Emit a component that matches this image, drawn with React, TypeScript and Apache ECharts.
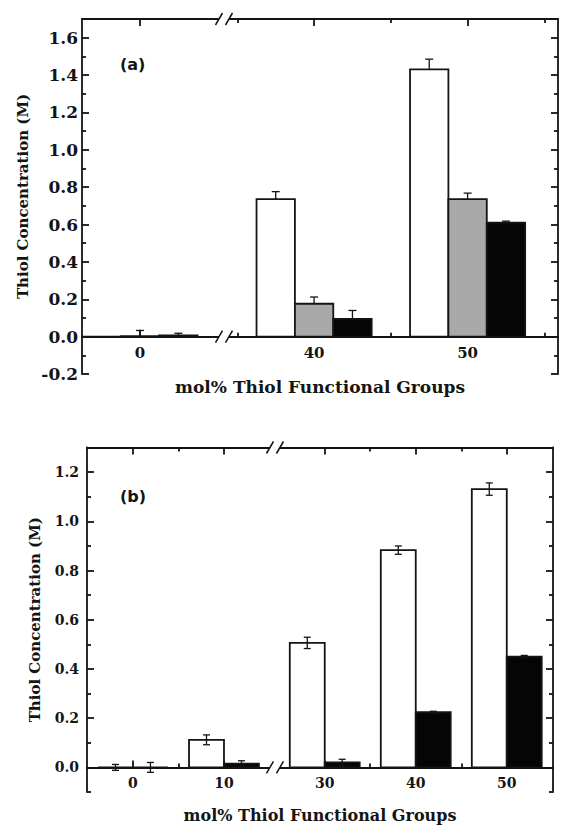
import React, { useEffect, useRef } from 'react';
import * as echarts from 'echarts';

// ---------- Panel (a) data ----------
const groupsA = [0, 40, 50];
const whiteA = [0, 0.736, 1.43];
const whiteErrA = [0, 0.04, 0.055];
const greyA = [0.003, 0.176, 0.736];
const greyErrA = [0.03, 0.036, 0.032];
const blackA = [0.006, 0.095, 0.61];
const blackErrA = [0.012, 0.045, 0.008];
const xLabelsA = [0, 40, 50];
const xMinorA = [35, 45, 55];
const yLabelsA = [-0.2, 0, 0.2, 0.4, 0.6, 0.8, 1.0, 1.2, 1.4, 1.6];
const yMinorA = [-0.1, 0.1, 0.3, 0.5, 0.7, 0.9, 1.1, 1.3, 1.5];

// ---------- Panel (b) data ----------
const groupsB = [0, 10, 30, 40, 50];
const whiteB = [0, 0.112, 0.506, 0.883, 1.131];
const whiteErrB = [0.012, 0.02, 0.023, 0.017, 0.025];
const blackB = [0, 0.015, 0.02, 0.224, 0.45];
const blackErrB = [0.02, 0.012, 0.013, 0.004, 0.005];
const xLabelsB = [0, 10, 30, 40, 50];
const xMinorB = [5, 35, 45];
const yLabelsB = [0, 0.2, 0.4, 0.6, 0.8, 1.0, 1.2];
const yMinorB = [-0.1, 0.1, 0.3, 0.5, 0.7, 0.9, 1.1];

const X_TITLE = 'mol% Thiol Functional Groups';
const Y_TITLE = 'Thiol Concentration (M)';

// broken x axis: display coordinate u
const BREAK_A = { split: 20, gapAt: 5.47, offset: 28.66, min: -3.78, max: 27.23, yMin: -0.2, yMax: 1.7 };
const BREAK_B = { split: 20, gapAt: 15.6, offset: 8.93, min: -5.05, max: 46.15, yMin: -0.1, yMax: 1.3 };

const GRID_A = { left: 82, top: 19, width: 476, height: 355 };
const GRID_B = { left: 87, top: 447.5, width: 466, height: 344.5 };

const toU = (b: any, x: number) => (x > b.split ? x - b.offset : x);
const fromU = (b: any, u: number) => (u > b.gapAt ? u + b.offset : u);

const INK = '#141414';
const lineStyle = { color: INK, width: 1.8 };
const serif = 'DejaVu Serif';

function barRenderer(width: number, fill: string, both: boolean) {
  return (params: any, api: any) => {
    const u = api.value(0);
    const v = api.value(1);
    const e = api.value(2);
    const bl = api.coord([u - width / 2, 0]);
    const tr = api.coord([u + width / 2, v]);
    const children: any[] = [
      {
        type: 'rect',
        shape: { x: bl[0], y: Math.min(tr[1], bl[1]), width: tr[0] - bl[0], height: Math.abs(bl[1] - tr[1]) },
        style: { fill, stroke: INK, lineWidth: 1.8 },
      },
    ];
    if (e > 0) {
      const top = api.coord([u, v + e]);
      const bot = api.coord([u, both ? v - e : v]);
      const cap = both ? 3.5 : 4;
      children.push({ type: 'line', shape: { x1: top[0], y1: top[1], x2: bot[0], y2: bot[1] }, style: { stroke: INK, lineWidth: 1.3 } });
      children.push({ type: 'line', shape: { x1: top[0] - cap, y1: top[1], x2: top[0] + cap, y2: top[1] }, style: { stroke: INK, lineWidth: 1.3 } });
      if (both) {
        children.push({ type: 'line', shape: { x1: bot[0] - cap, y1: bot[1], x2: bot[0] + cap, y2: bot[1] }, style: { stroke: INK, lineWidth: 1.3 } });
      }
    }
    return { type: 'group', children };
  };
}

function breakRenderer(params: any, api: any) {
  const p = api.coord([api.value(0), api.value(1)]);
  return {
    type: 'group',
    children: [
      { type: 'rect', shape: { x: p[0] - 5, y: p[1] - 3, width: 10, height: 6 }, style: { fill: '#ffffff' } },
      { type: 'line', shape: { x1: p[0] - 8.5, y1: p[1] + 6, x2: p[0] - 1.5, y2: p[1] - 6 }, style: { stroke: INK, lineWidth: 1.5 } },
      { type: 'line', shape: { x1: p[0] + 1.5, y1: p[1] + 6, x2: p[0] + 8.5, y2: p[1] - 6 }, style: { stroke: INK, lineWidth: 1.5 } },
    ],
  };
}

function buildAxes(
  b: any, grid: any, gridIndex: number, xLabels: number[], xMinor: number[], yLabels: number[], yMinor: number[],
  fs: { xl: number; yl: number; xt: number; yt: number; xGap: number; yGap: number; ylMargin: number; xlMargin: number }
) {
  const xl = xLabels.map((x) => toU(b, x));
  const xm = xMinor.map((x) => toU(b, x));
  // move the bottom axis up to the y = 0 line
  const zeroOffset = -grid.height * (0 - b.yMin) / (b.yMax - b.yMin);
  const xc = { type: 'value', gridIndex, min: b.min, max: b.max, splitLine: { show: false } };
  const yc = { type: 'value', gridIndex, min: b.yMin, max: b.yMax, splitLine: { show: false } };
  const labelFont = (size: number) => ({ fontFamily: serif, fontWeight: 'bold', fontSize: size, color: INK });
  const xAxes = [
    {
      ...xc, position: 'bottom', offset: zeroOffset,
      axisLine: { onZero: false, lineStyle },
      axisTick: { inside: true, length: 7, customValues: xl, lineStyle },
      axisLabel: { customValues: xl, margin: fs.xlMargin, formatter: (v: number) => String(Math.round(fromU(b, v))), ...labelFont(fs.xl) },
      name: X_TITLE, nameLocation: 'middle', nameGap: fs.xGap,
      nameTextStyle: { fontFamily: serif, fontWeight: 'bold', fontSize: fs.xt, color: INK },
    },
    {
      ...xc, position: 'bottom', offset: zeroOffset,
      axisLine: { show: false, onZero: false },
      axisTick: { inside: true, length: 4, customValues: xm, lineStyle },
      axisLabel: { show: false },
    },
    {
      ...xc, position: 'top',
      axisLine: { onZero: false, lineStyle },
      axisTick: { inside: true, length: 7, customValues: xl, lineStyle },
      axisLabel: { show: false },
    },
    {
      ...xc, position: 'top',
      axisLine: { show: false, onZero: false },
      axisTick: { inside: true, length: 4, customValues: xm, lineStyle },
      axisLabel: { show: false },
    },
  ];
  const yAxes = [
    {
      ...yc, position: 'left',
      axisLine: { onZero: false, lineStyle },
      axisTick: { inside: true, length: 7, customValues: yLabels, lineStyle },
      axisLabel: { customValues: yLabels, margin: fs.ylMargin, formatter: (v: number) => v.toFixed(1), ...labelFont(fs.yl) },
      name: Y_TITLE, nameLocation: 'middle', nameRotate: 90, nameGap: fs.yGap,
      nameTextStyle: { fontFamily: serif, fontWeight: 'bold', fontSize: fs.yt, color: INK },
    },
    {
      ...yc, position: 'left',
      axisLine: { show: false, onZero: false },
      axisTick: { inside: true, length: 4, customValues: yMinor, lineStyle },
      axisLabel: { show: false },
    },
    {
      ...yc, position: 'right',
      axisLine: { onZero: false, lineStyle },
      axisTick: { inside: true, length: 7, customValues: yLabels, lineStyle },
      axisLabel: { show: false },
    },
    {
      ...yc, position: 'right',
      axisLine: { show: false, onZero: false },
      axisTick: { inside: true, length: 4, customValues: yMinor, lineStyle },
      axisLabel: { show: false },
    },
  ];
  return { xAxes, yAxes };
}

function barSeries(b: any, groups: number[], vals: number[], errs: number[], shift: number, width: number, fill: string, both: boolean, axisIdx: number, name: string) {
  return {
    type: 'custom', name, xAxisIndex: axisIdx, yAxisIndex: axisIdx, clip: false, z: 3,
    renderItem: barRenderer(width, fill, both),
    encode: { x: 0, y: 1 },
    data: groups.map((g, i) => [toU(b, g) + shift, vals[i], errs[i]]),
  };
}

function breakSeries(b: any, axisIdx: number) {
  return {
    type: 'custom', xAxisIndex: axisIdx, yAxisIndex: axisIdx, clip: false, z: 5,
    renderItem: breakRenderer, encode: { x: 0, y: 1 },
    data: [[b.gapAt, 0], [b.gapAt, b.yMax]],
  };
}

export default function App() {
  const ref = useRef<HTMLDivElement>(null);
  useEffect(() => {
    if (!ref.current) return;
    const chart = echarts.init(ref.current, undefined, { renderer: 'svg' });
    const a = buildAxes(BREAK_A, GRID_A, 0, xLabelsA, xMinorA, yLabelsA, yMinorA,
      { xl: 15, yl: 17, xt: 17, yt: 15, xGap: 42, yGap: 48, ylMargin: 4, xlMargin: 9 });
    const bb = buildAxes(BREAK_B, GRID_B, 1, xLabelsB, xMinorB, yLabelsB, yMinorB,
      { xl: 14, yl: 14, xt: 16, yt: 15, xGap: 40, yGap: 45, ylMargin: 8, xlMargin: 9 });
    const wA = 2.5;
    const wB = 3.84;
    chart.setOption({
      animation: false,
      backgroundColor: '#ffffff',
      grid: [
        { ...GRID_A, containLabel: false, outerBoundsMode: 'none' },
        { ...GRID_B, containLabel: false, outerBoundsMode: 'none' },
      ],
      xAxis: [...a.xAxes, ...bb.xAxes],
      yAxis: [...a.yAxes, ...bb.yAxes],
      graphic: [
        { type: 'text', left: 120, top: 56, style: { text: '(a)', fontFamily: 'DejaVu Sans', fontWeight: 'bold', fontSize: 16, fill: INK } },
        { type: 'text', left: 120, top: 488, style: { text: '(b)', fontFamily: 'DejaVu Sans', fontWeight: 'bold', fontSize: 16, fill: INK } },
      ],
      series: [
        barSeries(BREAK_A, groupsA, whiteA, whiteErrA, -wA, wA, '#ffffff', false, 0, 'a-white'),
        barSeries(BREAK_A, groupsA, greyA, greyErrA, 0, wA, '#a9a9a9', false, 0, 'a-grey'),
        barSeries(BREAK_A, groupsA, blackA, blackErrA, wA, wA, '#050505', false, 0, 'a-black'),
        breakSeries(BREAK_A, 0),
        barSeries(BREAK_B, groupsB, whiteB, whiteErrB, -wB / 2, wB, '#ffffff', true, 4, 'b-white'),
        barSeries(BREAK_B, groupsB, blackB, blackErrB, wB / 2, wB, '#050505', true, 4, 'b-black'),
        breakSeries(BREAK_B, 4),
      ],
    });
    return () => chart.dispose();
  }, []);
  return <div ref={ref} style={{ position: 'absolute', left: 0, top: 0, width: 561, height: 826, background: '#fff' }} />;
}
